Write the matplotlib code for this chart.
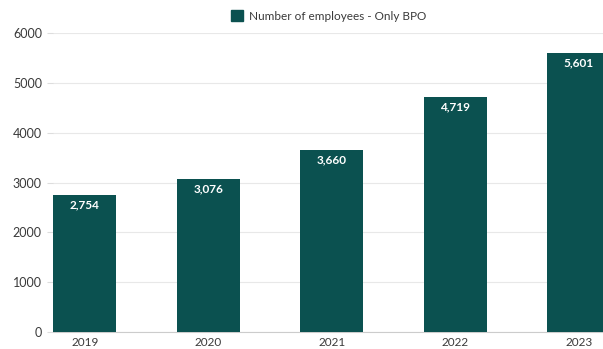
import matplotlib
matplotlib.use("Agg")
import matplotlib.pyplot as plt
from matplotlib.patches import Patch

years = ["2019", "2020", "2021", "2022", "2023"]
employees = [2754, 3076, 3660, 4719, 5601]
value_labels = ["2,754", "3,076", "3,660", "4,719", "5,601"]
yticks = [0, 1000, 2000, 3000, 4000, 5000, 6000]
series_name = "Number of employees - Only BPO"

bar_color = "#0b5150"
text_color = "#3a3a3a"

plt.rcParams["font.family"] = ["Lato", "DejaVu Sans"]

fig = plt.figure(figsize=(6.03, 3.49), dpi=100)
ax = fig.add_axes([53 / 603, 1 - 332 / 349, 1 - 53 / 603, (332 - 33) / 349])

x = list(range(len(years)))
bars = ax.bar(x, employees, width=0.51, color=bar_color, zorder=3)

for rect, lab in zip(bars, value_labels):
    ax.text(rect.get_x() + rect.get_width() / 2, rect.get_height() - 200, lab,
            ha="center", va="center", color="white", fontsize=8.5,
            fontweight="bold", zorder=4)

ax.set_xlim(-0.258, 4.195)
ax.set_ylim(0, 6000)
ax.set_yticks(yticks)
ax.set_yticklabels([str(v) for v in yticks])
ax.set_xticks(x)
ax.set_xticklabels(years)

ax.grid(axis="y", color="#e8e8e8", linewidth=0.8, zorder=0)
for side in ["top", "right", "left"]:
    ax.spines[side].set_visible(False)
ax.spines["bottom"].set_color("#cccccc")
ax.spines["bottom"].set_linewidth(0.8)

ax.tick_params(axis="y", length=4, color="#dddddd", labelsize=9,
               labelcolor=text_color, pad=4)
ax.tick_params(axis="x", length=0, labelsize=8.5, labelcolor=text_color, pad=3.5)

handle = Patch(facecolor=bar_color, edgecolor=bar_color)
fig.legend([handle], [series_name], loc="center", bbox_to_anchor=(0.545, 1 - 16 / 349),
           frameon=False, fontsize=8.5, handlelength=1.0, handleheight=1.0,
           handletextpad=0.5, labelcolor=text_color)

fig.savefig("out.png", dpi=100)
